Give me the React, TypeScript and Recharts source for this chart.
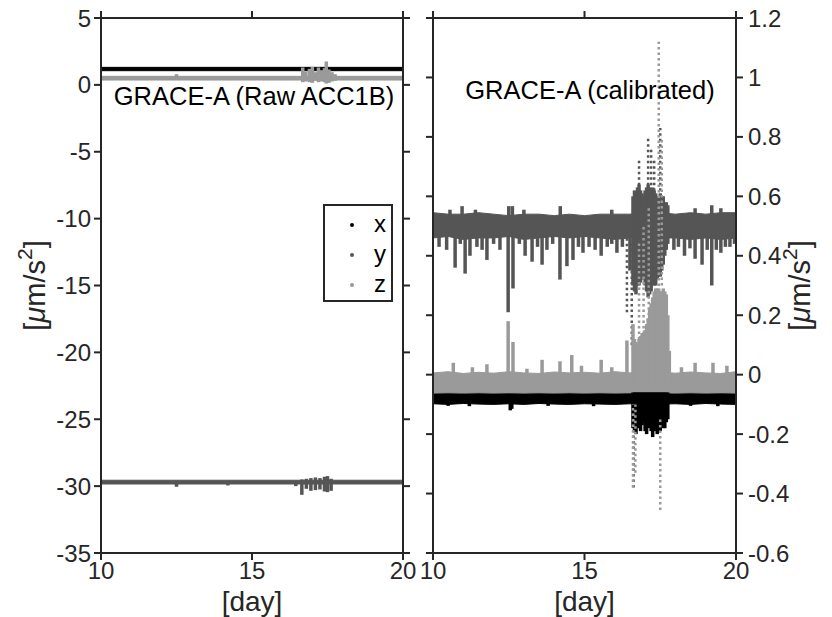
import React from 'react';
import { ComposedChart, Area, Scatter, ErrorBar, XAxis, YAxis, Label } from 'recharts';

const FONT = '"Liberation Sans", Arial, sans-serif';
const INK = '#262626';

const DAY_TICKS = [10, 15, 20];
const RAW_TICKS = [-35, -30, -25, -20, -15, -10, -5, 0, 5];
const CAL_TICKS = [-0.6, -0.4, -0.2, 0, 0.2, 0.4, 0.6, 0.8, 1, 1.2];

const SERIES = ['x', 'y', 'z'] as const;
const COLORS: Record<string, string> = { x: '#000000', y: '#555555', z: '#9a9a9a' };

// ---- raw ACC1B (left) ----
const rawDays = [10, 20];
const rawXLo = [1.06, 1.06];
const rawXHi = [1.31, 1.31];
const rawYLo = [-29.84, -29.84];
const rawYHi = [-29.56, -29.56];
const rawZLo = [0.36, 0.36];
const rawZHi = [0.64, 0.64];

// [day, low, high]
const rawXSpikes: number[][] = [];
const rawYSpikes = [
  [12.5, -30.05, -29.6], [14.2, -29.95, -29.6],
  [16.45, -30.0, -29.6], [16.65, -30.65, -29.5], [16.8, -30.2, -29.45], [16.95, -30.35, -29.4],
  [17.1, -30.3, -29.35], [17.25, -30.25, -29.4], [17.4, -30.4, -29.3], [17.5, -30.45, -29.25],
  [17.62, -30.35, -29.45],
];
const rawZSpikes = [
  [12.5, 0.4, 0.8],
  [16.68, 0.2, 1.3], [16.78, 0.25, 1.0], [16.9, 0.2, 1.2], [17.0, 0.15, 1.35], [17.1, 0.3, 0.95],
  [17.2, 0.2, 1.3], [17.3, 0.25, 1.1], [17.4, 0.2, 1.25], [17.46, 0.1, 1.75], [17.55, 0.15, 1.15],
  [17.65, 0.25, 0.95], [17.75, 0.3, 0.8],
];

// ---- calibrated (right) ----
const calDays = [10, 10.5, 11, 11.5, 12, 12.5, 13, 13.5, 14, 14.5, 15, 15.5, 16, 16.5, 17, 17.5, 18, 18.5, 19, 19.5, 20];
const calXLo = [-0.098, -0.1, -0.097, -0.099, -0.1, -0.098, -0.1, -0.097, -0.099, -0.1, -0.098, -0.099, -0.1, -0.098, -0.1, -0.099, -0.098, -0.1, -0.097, -0.099, -0.1];
const calXHi = [-0.062, -0.06, -0.062, -0.06, -0.061, -0.062, -0.06, -0.061, -0.062, -0.06, -0.062, -0.061, -0.06, -0.062, -0.06, -0.061, -0.062, -0.06, -0.061, -0.062, -0.06];
const calYLo = [0.46, 0.465, 0.455, 0.46, 0.46, 0.465, 0.455, 0.46, 0.465, 0.46, 0.465, 0.46, 0.455, 0.46, 0.465, 0.46, 0.46, 0.455, 0.46, 0.455, 0.46];
const calYHi = [0.545, 0.54, 0.54, 0.545, 0.54, 0.535, 0.54, 0.54, 0.535, 0.54, 0.535, 0.54, 0.54, 0.54, 0.545, 0.545, 0.54, 0.545, 0.54, 0.545, 0.545];
const calZLo = [-0.062, -0.061, -0.062, -0.061, -0.062, -0.061, -0.062, -0.061, -0.062, -0.061, -0.062, -0.061, -0.062, -0.061, -0.062, -0.061, -0.062, -0.061, -0.062, -0.061, -0.062];
const calZHi = [0.006, 0.01, 0.004, 0.008, 0.005, 0.01, 0.006, 0.004, 0.009, 0.006, 0.008, 0.005, 0.01, 0.006, 0.01, 0.008, 0.005, 0.009, 0.006, 0.004, 0.01];

const calXSpikes = [
  [10.5, -0.105, -0.07], [11.2, -0.106, -0.07], [12.55, -0.12, -0.07], [12.6, -0.115, -0.07],
  [13.8, -0.105, -0.07], [15.3, -0.106, -0.07], [18.5, -0.105, -0.07], [19.4, -0.106, -0.07],
  [16.6, -0.18, -0.06], [16.65, -0.19, -0.06], [16.7, -0.2, -0.06], [16.75, -0.18, -0.06],
  [16.8, -0.17, -0.06], [16.85, -0.19, -0.06], [16.9, -0.17, -0.06], [16.95, -0.16, -0.06],
  [17.0, -0.19, -0.06], [17.05, -0.2, -0.06], [17.1, -0.17, -0.06], [17.15, -0.18, -0.06],
  [17.2, -0.19, -0.06], [17.25, -0.21, -0.06], [17.3, -0.19, -0.06], [17.35, -0.18, -0.06],
  [17.4, -0.2, -0.06], [17.45, -0.19, -0.06], [17.5, -0.19, -0.06], [17.55, -0.17, -0.06],
  [17.6, -0.18, -0.06], [17.65, -0.18, -0.06], [17.7, -0.16, -0.06], [17.75, -0.15, -0.06],
];
const calYSpikes = [
  [10.2, 0.43, 0.47], [10.45, 0.42, 0.47], [10.73, 0.36, 0.47], [10.9, 0.44, 0.47], [11.06, 0.34, 0.47],
  [11.22, 0.4, 0.47], [11.45, 0.43, 0.47], [11.62, 0.42, 0.47], [11.78, 0.386, 0.47], [12.0, 0.44, 0.47],
  [12.21, 0.42, 0.47], [12.48, 0.21, 0.47], [12.64, 0.29, 0.47], [12.85, 0.44, 0.47], [13.04, 0.4, 0.47],
  [13.27, 0.38, 0.47], [13.45, 0.43, 0.47], [13.6, 0.37, 0.47], [13.76, 0.42, 0.47], [13.95, 0.44, 0.47],
  [14.19, 0.32, 0.47], [14.42, 0.365, 0.47], [14.62, 0.386, 0.47], [14.8, 0.43, 0.47], [14.95, 0.41, 0.47],
  [15.15, 0.43, 0.47], [15.35, 0.42, 0.47], [15.55, 0.4, 0.47], [15.75, 0.43, 0.47], [15.9, 0.44, 0.47],
  [16.07, 0.41, 0.47], [16.25, 0.43, 0.47], [16.5, 0.35, 0.47], [17.95, 0.42, 0.47], [18.1, 0.43, 0.47],
  [18.3, 0.4, 0.47], [18.48, 0.425, 0.47], [18.65, 0.39, 0.47], [18.88, 0.37, 0.47], [19.05, 0.42, 0.47],
  [19.2, 0.3, 0.47], [19.35, 0.42, 0.47], [19.5, 0.41, 0.47], [19.65, 0.43, 0.47], [19.8, 0.43, 0.47],
  [19.95, 0.44, 0.47],
  [10.56, 0.53, 0.555], [10.96, 0.53, 0.567], [11.4, 0.53, 0.555], [12.5, 0.53, 0.567], [12.62, 0.53, 0.567],
  [13.0, 0.53, 0.555], [14.2, 0.53, 0.567], [15.9, 0.53, 0.555], [18.65, 0.53, 0.56], [19.2, 0.53, 0.57],
  [19.5, 0.53, 0.56],
  [16.6, 0.3, 0.6], [16.65, 0.28, 0.62], [16.7, 0.27, 0.6], [16.75, 0.3, 0.63], [16.8, 0.3, 0.64],
  [16.85, 0.31, 0.62], [16.9, 0.32, 0.61], [16.95, 0.33, 0.6], [17.0, 0.3, 0.62], [17.05, 0.28, 0.63],
  [17.1, 0.26, 0.64], [17.15, 0.27, 0.63], [17.2, 0.28, 0.62], [17.25, 0.3, 0.63], [17.3, 0.3, 0.62],
  [17.35, 0.3, 0.61], [17.4, 0.32, 0.6], [17.45, 0.33, 0.6], [17.5, 0.33, 0.61], [17.55, 0.35, 0.6],
  [17.6, 0.37, 0.6], [17.65, 0.4, 0.58], [17.7, 0.42, 0.58], [17.75, 0.44, 0.57],
];
const calZSpikes = [
  [10.67, 0, 0.04], [11.3, 0, 0.025], [11.78, 0, 0.035], [12.48, 0, 0.18], [12.64, 0, 0.11],
  [13.1, 0, 0.02], [13.6, 0, 0.05], [14.19, 0, 0.045], [14.58, 0, 0.066], [14.9, 0, 0.03],
  [15.55, 0, 0.05], [15.9, 0, 0.025], [16.4, 0, 0.115], [18.2, 0, 0.025], [18.65, 0, 0.04],
  [19.24, 0, 0.04], [19.7, 0, 0.03],
  [16.6, -0.05, 0.17], [16.65, -0.05, 0.12], [16.7, -0.05, 0.11], [16.75, -0.05, 0.1],
  [16.8, -0.05, 0.12], [16.85, -0.05, 0.13], [16.9, -0.05, 0.14], [16.95, -0.05, 0.14],
  [17.0, -0.05, 0.15], [17.05, -0.05, 0.17], [17.1, -0.05, 0.19], [17.15, -0.05, 0.22],
  [17.2, -0.05, 0.24], [17.25, -0.05, 0.26], [17.3, -0.05, 0.28], [17.35, -0.05, 0.29],
  [17.4, -0.05, 0.29], [17.45, -0.05, 0.29], [17.5, -0.05, 0.28], [17.55, -0.05, 0.28],
  [17.6, -0.05, 0.29], [17.65, -0.05, 0.28], [17.7, -0.05, 0.27], [17.75, -0.05, 0.2],
  [17.8, -0.05, 0.08],
];
// sparse, dotted columns
const calYDotted = [
  [16.4, 0.21, 0.46], [16.56, 0.1, 0.44], [16.62, -0.38, -0.12], [16.8, 0.6, 0.72],
  [17.1, 0.6, 0.8], [17.2, 0.6, 0.76], [17.3, 0.6, 0.72], [17.5, 0.6, 0.83],
];
const calZDotted = [
  [16.6, -0.38, -0.1], [16.68, -0.33, -0.1], [16.8, 0.1, 0.45], [16.95, 0.1, 0.5],
  [17.12, 0.2, 0.56], [17.45, 0.28, 1.12], [17.5, -0.455, -0.15], [17.55, 0.3, 0.8],
];

const LEGEND = ['x', 'y', 'z'];

const rawRows = rawDays.map((day, i) => ({
  day, x: [rawXLo[i], rawXHi[i]], y: [rawYLo[i], rawYHi[i]], z: [rawZLo[i], rawZHi[i]],
}));
const calRows = calDays.map((day, i) => ({
  day, x: [calXLo[i], calXHi[i]], y: [calYLo[i], calYHi[i]], z: [calZLo[i], calZHi[i]],
}));

const toBars = (spikes: number[][]) =>
  spikes.map(([day, lo, hi]) => ({ day, mid: (lo + hi) / 2, err: (hi - lo) / 2 }));

const axisStroke = { stroke: INK, strokeWidth: 2 };
const tickText = { fill: INK, fontSize: 24, fontFamily: FONT };

const unitLabel = (dx: number) => (props: any) => {
  const vb = props.viewBox || { x: 0, y: 0, width: 0, height: 0 };
  const cx = vb.x + dx;
  const cy = vb.y + vb.height / 2;
  return (
    <text x={cx} y={cy} transform={`rotate(-90 ${cx} ${cy})`} textAnchor="middle" dominantBaseline="central"
      fill={INK} fontSize={29} fontFamily={FONT}>
      [<tspan fontStyle="italic">μ</tspan>m/s<tspan dy={-11} fontSize={21}>2</tspan><tspan dy={11}>]</tspan>
    </text>
  );
};

const noDot = () => <g />;
const blankTick = () => <g />;

function Panel({ left, width, margin, rows, spikes, dotted, domain, ticks, side }: any) {
  const mirror = side === 'left' ? 'right' : 'left';
  return (
    <div style={{ position: 'absolute', left, top: 0 }}>
      <ComposedChart width={width} height={617} data={rows} margin={margin}>
        <XAxis xAxisId="b" dataKey="day" type="number" domain={[10, 20]} ticks={DAY_TICKS} interval={0}
          allowDataOverflow height={64} tickSize={7} tickMargin={2} axisLine={axisStroke} tickLine={axisStroke} tick={tickText}>
          <Label value="[day]" position="insideBottom" offset={6} fill={INK} fontSize={28} fontFamily={FONT} />
        </XAxis>
        <XAxis xAxisId="t" orientation="top" dataKey="day" type="number" domain={[10, 20]} ticks={DAY_TICKS} interval={0}
          allowDataOverflow height={1} tickSize={7} axisLine={axisStroke} tickLine={axisStroke} tick={blankTick} />
        <YAxis yAxisId="main" orientation={side} type="number" domain={domain} ticks={ticks} interval={0}
          allowDataOverflow width={side === 'left' ? 101 : 96} tickSize={7} tickMargin={side === 'left' ? 3 : 5}
          axisLine={axisStroke} tickLine={axisStroke} tick={tickText}>
          <Label content={unitLabel(side === 'left' ? 35 : 64)} />
        </YAxis>
        <YAxis yAxisId="mirror" orientation={mirror} type="number" domain={domain} ticks={ticks} interval={0}
          allowDataOverflow width={1} tickSize={7} axisLine={axisStroke} tickLine={axisStroke} tick={blankTick} />
        {SERIES.map((s) => (
          <React.Fragment key={s}>
            <Area xAxisId="b" yAxisId="main" dataKey={s} type="linear" stroke={COLORS[s]} strokeWidth={1}
              fill={COLORS[s]} fillOpacity={1} dot={false} activeDot={false} isAnimationActive={false} />
            <Scatter xAxisId="b" yAxisId="main" data={toBars(spikes[s])} dataKey="mid" shape={noDot} isAnimationActive={false}>
              <ErrorBar dataKey="err" direction="y" width={0} stroke={COLORS[s]} strokeWidth={3.5} isAnimationActive={false} />
            </Scatter>
            {dotted[s] && (
              <Scatter xAxisId="b" yAxisId="main" data={toBars(dotted[s])} dataKey="mid" shape={noDot} isAnimationActive={false}>
                <ErrorBar dataKey="err" direction="y" width={0} stroke={COLORS[s]} strokeWidth={2.5}
                  strokeDasharray="2.5 3" isAnimationActive={false} />
              </Scatter>
            )}
          </React.Fragment>
        ))}
      </ComposedChart>
    </div>
  );
}

export default function App() {
  return (
    <div style={{ position: 'absolute', left: 0, top: 0, width: 832, height: 617, background: '#fff', fontFamily: FONT }}>
      <Panel left={0} width={420} margin={{ top: 17, right: 16, bottom: 0, left: 0 }} rows={rawRows}
        spikes={{ x: rawXSpikes, y: rawYSpikes, z: rawZSpikes }} dotted={{}} domain={[-35, 5]} ticks={RAW_TICKS} side="left" />
      <Panel left={420} width={412} margin={{ top: 17, right: 0, bottom: 0, left: 12 }} rows={calRows}
        spikes={{ x: calXSpikes, y: calYSpikes, z: calZSpikes }} dotted={{ y: calYDotted, z: calZDotted }}
        domain={[-0.6, 1.2]} ticks={CAL_TICKS} side="right" />

      <div style={{ position: 'absolute', left: 254, top: 84, transform: 'translateX(-50%)', whiteSpace: 'nowrap',
        fontSize: 25.5, lineHeight: 1, color: '#000' }}>GRACE-A (Raw ACC1B)</div>
      <div style={{ position: 'absolute', left: 590, top: 78, transform: 'translateX(-50%)', whiteSpace: 'nowrap',
        fontSize: 25.5, lineHeight: 1, color: '#000' }}>GRACE-A (calibrated)</div>

      <div style={{ position: 'absolute', left: 323, top: 204, width: 66, height: 94, border: `2px solid ${INK}`, background: '#fff' }}>
        {LEGEND.map((s, i) => (
          <div key={s} style={{ position: 'absolute', left: 0, top: 4 + i * 30, height: 30, width: 66 }}>
            <span style={{ position: 'absolute', left: 25, top: 13, width: 4, height: 4, borderRadius: 2, background: COLORS[s] }} />
            <span style={{ position: 'absolute', left: 49, top: 1, fontSize: 24, lineHeight: '26px', color: '#000' }}>{s}</span>
          </div>
        ))}
      </div>
    </div>
  );
}
